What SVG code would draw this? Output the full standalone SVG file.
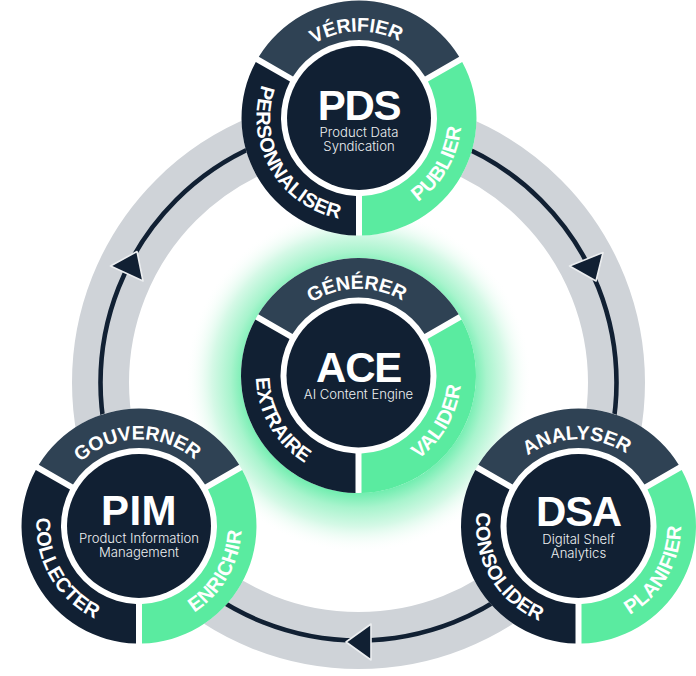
<svg xmlns="http://www.w3.org/2000/svg" width="696" height="676" viewBox="0 0 696 676">
<style>
text{font-family:"Liberation Sans","Inter",sans-serif;fill:#fff;text-anchor:middle}
.t{font-size:42px;font-weight:700;letter-spacing:-1.3px}
.s{font-family:"Inter","Liberation Sans",sans-serif;font-size:13.1px;font-weight:300;fill:#eef0f2}
.l{font-size:20px;font-weight:700;letter-spacing:.2px}
.h{font-size:19.5px;font-weight:700;letter-spacing:-.1px}
.a{fill:#2f4254}.b{fill:#112033}.c{fill:#5aeba0}
.arrow{fill:#112033;stroke:#eceef0;stroke-width:1.6;stroke-linejoin:round}
</style>
<defs>
<radialGradient id="glow"><stop offset="0.66" stop-color="#74eeb1"/><stop offset="0.74" stop-color="#a8f4cd"/><stop offset="0.85" stop-color="#d6f9e7"/><stop offset="1" stop-color="#fff" stop-opacity="0"/></radialGradient>
<path id="pt" d="M-75-43.3A86.6 86.6 0 0 1 75-43.3"/>
<path id="pr" d="M0 102.5A102.5 102.5 0 0 0 88.8-51.3"/>
<path id="pl" d="M-88.8-51.3A102.5 102.5 0 0 0 0 102.5"/>
<g id="seg">
<circle r="117.5" fill="#fff"/>
<path class="a" d="M-100.2-61.3A117.5 117.5 0 0 1 100.2-61.3L66-41.6A78 78 0 0 0-66-41.6Z"/>
<path class="c" d="M103.2-56.1A117.5 117.5 0 0 1 3 117.5L3 77.9A78 78 0 0 0 69-36.4Z"/>
<path class="b" d="M-103.2-56.1A117.5 117.5 0 0 0-3 117.5L-3 77.9A78 78 0 0 1-69-36.4Z"/>
<circle class="b" r="72"/>
</g>
</defs>
<g id="connectors">
<circle cx="358.5" cy="382.5" r="258" fill="none" stroke="#cfd3d8" stroke-width="57"/>
<circle cx="358.5" cy="382.5" r="258" fill="none" stroke="#112033" stroke-width="4.6"/>
<polygon class="arrow" points="137,251.5 110.5,266 143,281"/>
<polygon class="arrow" points="569.5,266 603,252.5 596,281"/>
<polygon class="arrow" points="346,642 371,624 371,660"/>
</g>
<circle id="glow-halo" cx="358.5" cy="380" r="173" fill="url(#glow)"/>
<g id="PDS" transform="translate(359 118)">
<use href="#seg"/>
<text class="t" y="2">PDS</text>
<text class="s" y="19">Product Data</text>
<text class="s" y="33">Syndication</text>
<text class="h"><textPath href="#pt" startOffset="48.5%">VÉRIFIER</textPath></text>
<text class="l"><textPath href="#pr" startOffset="50%">PUBLIER</textPath></text>
<text class="l"><textPath href="#pl" startOffset="50%">PERSONNALISER</textPath></text>
</g>
<g id="ACE" transform="translate(358.5 375.5)">
<use href="#seg"/>
<text class="t" y="6">ACE</text>
<text class="s" y="23">AI Content Engine</text>
<text class="h"><textPath href="#pt" startOffset="49%">GÉNÉRER</textPath></text>
<text class="l"><textPath href="#pr" startOffset="50%">VALIDER</textPath></text>
<text class="l"><textPath href="#pl" startOffset="50%">EXTRAIRE</textPath></text>
</g>
<g id="PIM" transform="translate(139 526)">
<use href="#seg"/>
<text class="t" y="-1" style="letter-spacing:.5px">PIM</text>
<text class="s" y="17">Product Information</text>
<text class="s" y="31">Management</text>
<text class="h"><textPath href="#pt" startOffset="49%">GOUVERNER</textPath></text>
<text class="l"><textPath href="#pr" startOffset="50%">ENRICHIR</textPath></text>
<text class="l"><textPath href="#pl" startOffset="50%">COLLECTER</textPath></text>
</g>
<g id="DSA" transform="translate(578.5 526)">
<use href="#seg"/>
<text class="t" y="0">DSA</text>
<text class="s" y="18">Digital Shelf</text>
<text class="s" y="32">Analytics</text>
<text class="h"><textPath href="#pt" startOffset="49%">ANALYSER</textPath></text>
<text class="l"><textPath href="#pr" startOffset="50%">PLANIFIER</textPath></text>
<text class="l"><textPath href="#pl" startOffset="50%">CONSOLIDER</textPath></text>
</g>
</svg>
